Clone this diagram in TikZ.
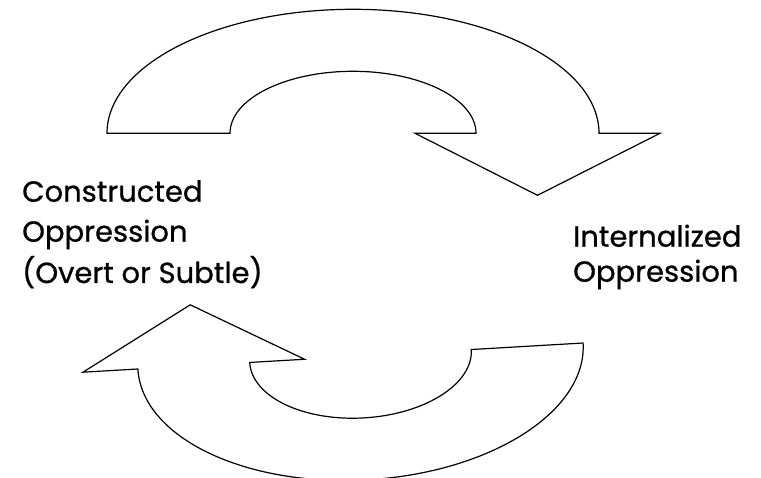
\documentclass[tikz,border=0pt]{standalone}
\usepackage{fontspec}
\setmainfont{Poppins}[FakeBold=0.8]
\begin{document}
\begin{tikzpicture}[x=1pt,y=1pt,
        cycle arrow/.style={draw,line width=1.2pt,line join=miter},
        side label/.style={anchor=base west,inner sep=0pt,font=\fontsize{29}{34}\selectfont}]
        \useasboundingbox (0,0) rectangle (761,478);
        % top arrow, going round to the right
        \begin{scope}[shift={(353,344.7)}]
        \draw[cycle arrow] (-246,0) arc (180:0:246 and 124) -- (307,0) -- (184.5,-62) -- (62,0) -- (123,0)
                arc (0:180:123 and 62) -- cycle;
        \end{scope}
        % bottom arrow, coming back to the left
        \begin{scope}[shift={(360.5,122)},rotate=3.34]
        \draw[cycle arrow] (223,0) arc (0:-180:223 and 124) -- (-278,0) -- (-167,61) -- (-56,0) -- (-111,0)
                arc (-180:0:111 and 62) -- cycle;
        \end{scope}
        \node[side label] (c1) at (22,276.3) {Constructed};
        \node[side label] (c2) at (22,236.3) {Oppression};
        \node[side label] (c3) at (22,195) {(Overt or Subtle)};
        \node[side label] (i1) at (573,231.3) {Internalized};
        \node[side label] (i2) at (573,196.3) {Oppression};
\end{tikzpicture}
\end{document}
